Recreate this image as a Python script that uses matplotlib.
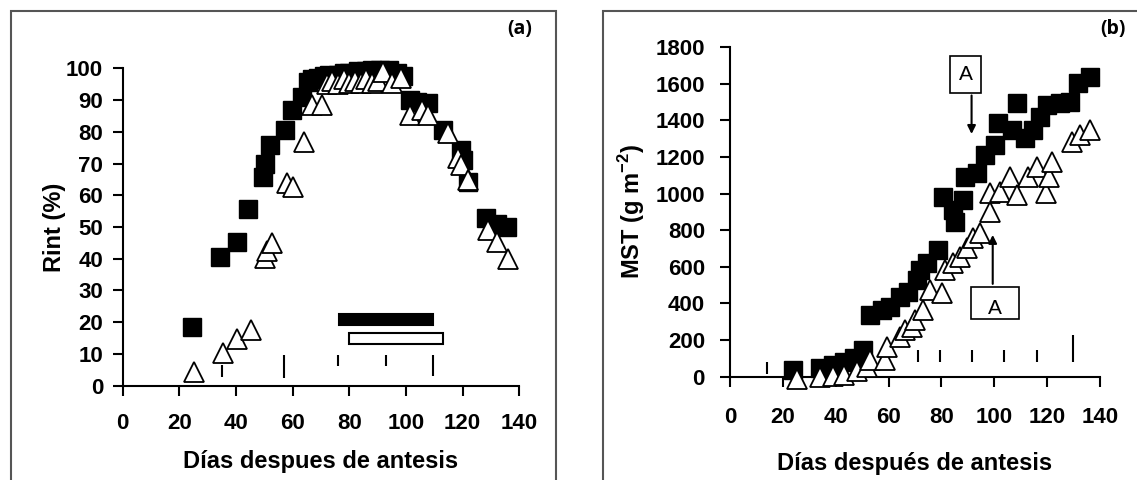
import matplotlib
matplotlib.use("Agg")
import matplotlib.pyplot as plt
from matplotlib.patches import Rectangle

plt.rcParams["font.family"] = ["Liberation Sans", "DejaVu Sans"]
plt.rcParams["font.weight"] = "bold"
plt.rcParams["axes.labelweight"] = "bold"
plt.rcParams["mathtext.fontset"] = "custom"
plt.rcParams["mathtext.rm"] = "Liberation Sans:bold"
plt.rcParams["mathtext.bf"] = "Liberation Sans:bold"

# ---- panel (a): Rint (%) ----
a_sq_x = [24.6, 34.3, 40.4, 44.3, 49.6, 50.2, 52.0, 57.3, 59.6, 63.2, 65.5, 67, 69, 71, 73, 76,
          78, 80, 83, 86, 88, 91, 94, 97, 99, 101.4, 104, 107.8, 113, 119.6, 120, 122,
          128.4, 132, 135.5]
a_sq_y = [18.4, 40.6, 45.4, 55.6, 65.8, 70, 75.8, 80.6, 87, 91, 95.8, 96.5, 97, 97.5, 98, 98,
          98.5, 98.5, 99, 99, 99.5, 99.5, 99.5, 98.5, 97.5, 90, 89.5, 89, 80.6, 74.3, 71, 64.3,
          52.7, 51, 50]
a_tri_x = [25.2, 35.3, 40.4, 45.2, 50.2, 51, 52.6, 57.9, 60.2, 64, 66.7, 70.2, 72, 74, 76, 78,
           80, 82, 84, 86, 88, 90, 92, 95, 98.4, 101.4, 105.5, 107.8, 115, 118.4, 119.6, 122,
           129, 132, 136]
a_tri_y = [4.4, 10.2, 14.6, 17.5, 40.1, 42.5, 44.8, 63.8, 62.7, 76.9, 88.4, 88.4, 95, 96, 95,
           96.5, 95.5, 96, 95.5, 96.5, 95.5, 96, 98.9, 95.5, 96.8, 85.3, 86.9, 85.3, 79.5, 71.6,
           69.5, 64.7, 49, 45.4, 40]
# period bars (start, length, y centre)
a_bar_left = [76.2, 80.0]
a_bar_len = [33.4, 33.1]
a_bar_y = [20.8, 14.9]
a_bar_face = ["black", "white"]
# small vertical marks
a_mark_x = [35, 57, 76, 93, 109.6]
a_mark_lo = [2.8, 2.5, 6.2, 6.2, 3.2]
a_mark_hi = [6.5, 9.6, 9.6, 9.6, 9.6]

# ---- panel (b): MST (g m-2) ----
b_sq_x = [24, 34, 39, 43, 46.9, 50.4, 53, 57.4, 60.5, 64.3, 67.5, 70.6, 71.9, 74.4, 78.8,
          80.7, 84.5, 85, 88.2, 88.8, 93.3, 96.4, 100.2, 101.5, 106.6, 108.5, 111.6, 114.8,
          117.4, 120, 124.9, 128.6, 131.8, 136.3]
b_sq_y = [37, 46, 64, 82, 100, 146, 337, 364, 383, 437, 464, 528, 583, 620, 692,
          984, 911, 847, 966, 1093, 1111, 1211, 1266, 1385, 1348, 1494, 1303, 1348,
          1421, 1485, 1494, 1503, 1603, 1639]
b_tri_x = [25.2, 34, 39, 43, 48, 51.7, 53, 58.6, 59.3, 64.3, 66.2, 68.7, 70, 73, 75.7, 80.1,
           81.3, 84.5, 87, 89.5, 92, 94.6, 98.4, 98.4, 102.2, 106, 108.5, 112.9, 116, 119.4,
           120.7, 122, 129.3, 132.5, 136.3]
b_tri_y = [-15, 0, 5, 10, 30, 55, 90, 91, 164, 219, 255, 273, 310, 364, 474, 456,
           583, 620, 656, 702, 756, 783, 902, 1002, 1011, 1093, 993, 1093, 1148, 1002,
           1093, 1175, 1284, 1321, 1348]
b_mark_x = [13.9, 71.3, 79.4, 91.4, 103.7, 116, 129.6]
b_mark_lo = [15, 79, 79, 79, 79, 79, 79]
b_mark_hi = [82, 146, 146, 146, 146, 146, 228]

fig = plt.figure(figsize=(11.37, 4.8), dpi=100)

# panel frames
for x0, w in [(0.0097, 0.4793), (0.5303, 0.48)]:
    fig.add_artist(Rectangle((x0, -0.02), w, 0.997, transform=fig.transFigure,
                             fill=False, edgecolor="#555555", linewidth=1.5))


def style(ax, xpad, ypad):
    for s in ("top", "right"):
        ax.spines[s].set_visible(False)
    for s in ("left", "bottom"):
        ax.spines[s].set_linewidth(1.5)
    ax.tick_params(direction="out", length=7, width=1.5, labelsize=16)
    ax.tick_params(axis="x", pad=xpad)
    ax.tick_params(axis="y", pad=ypad)
    ax.set_xlim(0, 140)
    ax.set_xticks(range(0, 141, 20))


# ---- (a) ----
ax1 = fig.add_axes([0.1079, 0.1965, 0.3488, 0.6612])
style(ax1, 13, 7)
ax1.set_ylim(0, 100)
ax1.set_yticks(range(0, 101, 10))
ax1.plot(a_sq_x, a_sq_y, "s", ms=13.5, color="black", clip_on=False, zorder=3)
ax1.plot(a_tri_x, a_tri_y, "^", ms=15, mfc="white", mec="black", mew=1.3,
         clip_on=False, zorder=4)
ax1.barh(a_bar_y, a_bar_len, left=a_bar_left, height=3.6, color=a_bar_face,
         edgecolor="black", linewidth=1.5, zorder=2)
ax1.vlines(a_mark_x, a_mark_lo, a_mark_hi, color="black", linewidth=1.5)
ax1.set_xlabel("Días despues de antesis", fontsize=17, labelpad=11)
ax1.set_ylabel("Rint (%)", fontsize=17, labelpad=0)
fig.text(0.457, 0.93, "(a)", fontsize=14, family="Open Sans", weight="bold", ha="center")

# ---- (b) ----
ax2 = fig.add_axes([0.6420, 0.2152, 0.3255, 0.6863])
style(ax2, 15, 11)
ax2.set_ylim(0, 1800)
ax2.set_yticks(range(0, 1801, 200))
ax2.plot(b_sq_x, b_sq_y, "s", ms=13, color="black", clip_on=False, zorder=3)
ax2.plot(b_tri_x, b_tri_y, "^", ms=14, mfc="white", mec="black", mew=1.3,
         clip_on=False, zorder=4)
ax2.vlines(b_mark_x, b_mark_lo, b_mark_hi, color="black", linewidth=1.5)
ax2.set_xlabel("Días después de antesis", fontsize=17, labelpad=17)
ax2.set_ylabel("MST (g m$^{-2}$)", fontsize=17, labelpad=6)
fig.text(0.979, 0.93, "(b)", fontsize=14, family="Open Sans", weight="bold", ha="center")

# "A" callouts
ax2.add_patch(Rectangle((83.2, 1552), 11.6, 200, fill=True, facecolor="white",
                        edgecolor="black", linewidth=1.2, zorder=5, clip_on=False))
ax2.text(89.3, 1652, "A", fontsize=15, weight="normal", ha="center", va="center", zorder=6)
ax2.annotate("", xy=(91.4, 1311), xytext=(91.4, 1552),
             arrowprops=dict(arrowstyle="-|>", color="black", lw=1.5, mutation_scale=12))
ax2.add_patch(Rectangle((91.1, 318), 18.4, 174, fill=True, facecolor="white",
                        edgecolor="black", linewidth=1.2, zorder=5, clip_on=False))
ax2.text(100.3, 375, "A", fontsize=15, weight="normal", ha="center", va="center", zorder=6)
ax2.annotate("", xy=(99.4, 790), xytext=(99.4, 492),
             arrowprops=dict(arrowstyle="-|>", color="black", lw=1.5, mutation_scale=12))

fig.savefig("out.png", dpi=100)
